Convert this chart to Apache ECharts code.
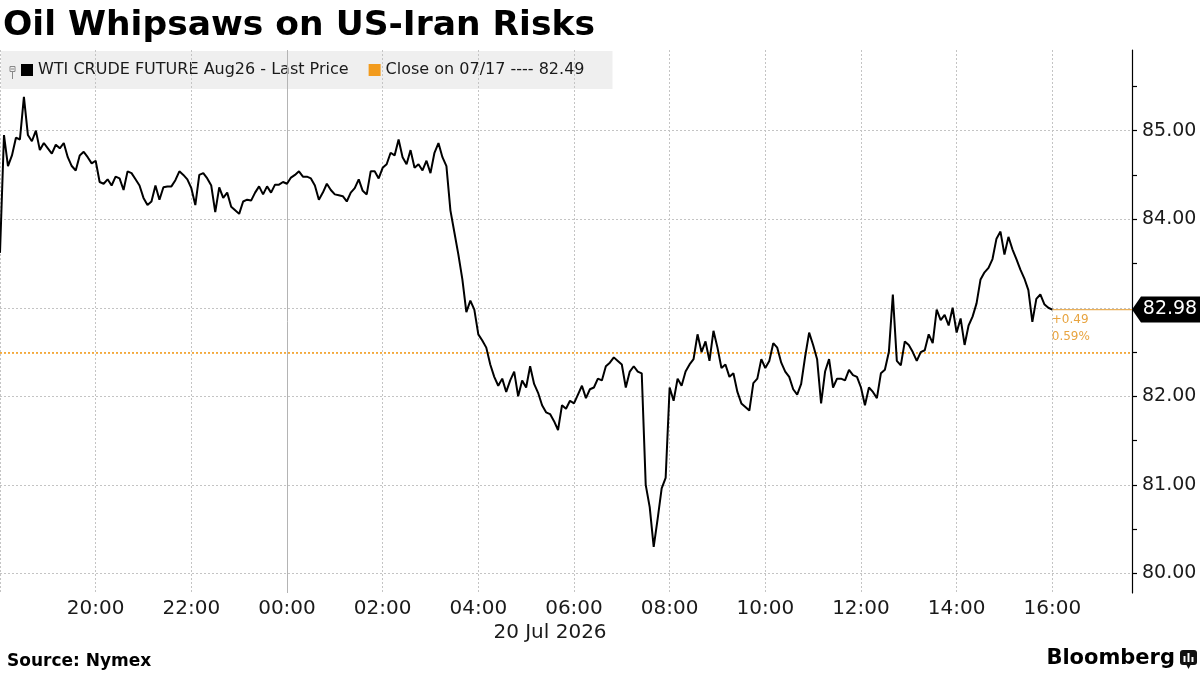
<!DOCTYPE html>
<html>
<head>
<meta charset="utf-8">
<script src="https://cdn.jsdelivr.net/npm/echarts@6/dist/echarts.min.js"></script>
<style>html,body{margin:0;padding:0;background:#fff}#c{width:1200px;height:675px}</style>
</head>
<body>
<div id="c"></div>
<script>
// ---------------- data ----------------
const chartTitle = 'Oil Whipsaws on US-Iran Risks';
const seriesName = 'WTI CRUDE FUTURE Aug26 - Last Price';
const closeDate = '07/17';
const closePrice = 82.49;
const sourceText = 'Source: Nymex';
const dateLabel = '20 Jul 2026';
// first print 19 Jul 2026 18:00, one value every 5 minutes up to 20 Jul 16:00
const startTime = Date.UTC(2026, 6, 19, 18, 0);
const stepMinutes = 5;
const prices = [
  83.62, 84.95, 84.60, 84.72, 84.92, 84.90, 85.38, 84.95, 84.88, 85.00,
  84.78, 84.86, 84.80, 84.74, 84.84, 84.80, 84.86, 84.70, 84.60, 84.55,
  84.72, 84.76, 84.70, 84.63, 84.66, 84.42, 84.40, 84.45, 84.38, 84.48,
  84.46, 84.33, 84.54, 84.52, 84.45, 84.38, 84.24, 84.16, 84.20, 84.38,
  84.22, 84.36, 84.37, 84.37, 84.44, 84.54, 84.50, 84.45, 84.35, 84.16,
  84.50, 84.52, 84.46, 84.38, 84.08, 84.36, 84.24, 84.30, 84.14, 84.10,
  84.06, 84.20, 84.22, 84.21, 84.30, 84.37, 84.28, 84.37, 84.30, 84.39,
  84.39, 84.42, 84.40, 84.47, 84.50, 84.54, 84.48, 84.48, 84.46, 84.38,
  84.22, 84.30, 84.40, 84.33, 84.28, 84.27, 84.26, 84.20, 84.30, 84.35,
  84.45, 84.32, 84.28, 84.54, 84.54, 84.46, 84.58, 84.62, 84.75, 84.72,
  84.90, 84.70, 84.62, 84.78, 84.58, 84.62, 84.55, 84.66, 84.52, 84.75,
  84.86, 84.70, 84.60, 84.10, 83.85, 83.60, 83.32, 82.95, 83.08, 82.98,
  82.70, 82.63, 82.55, 82.36, 82.22, 82.12, 82.20, 82.05, 82.18, 82.28,
  82.00, 82.18, 82.10, 82.34, 82.14, 82.04, 81.90, 81.82, 81.80, 81.72,
  81.62, 81.90, 81.86, 81.95, 81.92, 82.02, 82.12, 81.98, 82.08, 82.10,
  82.20, 82.18, 82.34, 82.38, 82.44, 82.40, 82.36, 82.10, 82.28, 82.34,
  82.28, 82.26, 81.00, 80.75, 80.30, 80.62, 80.96, 81.08, 82.10, 81.95,
  82.20, 82.12, 82.28, 82.36, 82.42, 82.70, 82.50, 82.62, 82.40, 82.74,
  82.55, 82.32, 82.36, 82.22, 82.26, 82.05, 81.92, 81.88, 81.84, 82.15,
  82.20, 82.42, 82.32, 82.40, 82.60, 82.55, 82.38, 82.28, 82.22, 82.08,
  82.02, 82.14, 82.45, 82.72, 82.58, 82.42, 81.92, 82.28, 82.42, 82.10,
  82.20, 82.20, 82.18, 82.30, 82.24, 82.22, 82.10, 81.90, 82.10, 82.05,
  81.98, 82.26, 82.30, 82.50, 83.15, 82.40, 82.35, 82.62, 82.58, 82.50,
  82.40, 82.50, 82.52, 82.70, 82.60, 82.98, 82.86, 82.92, 82.80, 83.00,
  82.72, 82.88, 82.58, 82.80, 82.90, 83.05, 83.32, 83.40, 83.45, 83.55,
  83.78, 83.86, 83.60, 83.80, 83.66, 83.55, 83.43, 83.33, 83.20, 82.84,
  83.10, 83.15, 83.04, 83.00, 82.98
];
const yLabelValues = [80, 81, 82, 83, 84, 85];
const yTickValues = [80, 80.5, 81, 81.5, 82, 82.5, 83, 83.5, 84, 84.5, 85, 85.5];
const xAxisMin = Date.UTC(2026, 6, 19, 18, 0);
const xAxisMax = Date.UTC(2026, 6, 20, 17, 40);
const yAxisMin = 79.78;
const yAxisMax = 85.91;
const dateSeparator = Date.UTC(2026, 6, 20, 0, 0);

// ---------------- chart ----------------
const FONT = '"DejaVu Sans", Verdana, sans-serif';
const ORANGE = '#f29b1d';
const times = prices.map((_, i) => startTime + i * stepMinutes * 60000);
const lineData = times.map((t, i) => [t, prices[i]]);
const lastPrice = prices[prices.length - 1];
const lastTime = times[times.length - 1];
const chg = lastPrice - closePrice;
const pct = chg / closePrice * 100;
const closeName = 'Close on ' + closeDate + ' ---- ' + closePrice.toFixed(2);

const pad = n => (n < 10 ? '0' : '') + n;

const chart = echarts.init(document.getElementById('c'), null, {renderer: 'canvas'});
chart.setOption({
  animation: false,
  textStyle: {fontFamily: FONT},
  grid: {left: 0, right: 68, top: 50, bottom: 82},
  legend: {
    left: 1, top: 51,
    data: [
      {name: seriesName, icon: 'rect', itemStyle: {color: '#000'}},
      {name: closeName, icon: 'rect', itemStyle: {color: ORANGE}}
    ],
    itemWidth: 12, itemHeight: 12, itemGap: 20,
    padding: [11, 28, 11, 20],
    backgroundColor: '#efefef',
    textStyle: {fontSize: 16, color: '#1a1a1a', fontFamily: FONT},
    selectedMode: false,
    z: -1
  },
  xAxis: {
    type: 'value', min: xAxisMin, max: xAxisMax, interval: 7200000,
    axisLine: {show: false}, axisTick: {show: false},
    axisLabel: {
      margin: 6, fontSize: 20, color: '#1a1a1a', fontFamily: FONT,
      showMinLabel: false, showMaxLabel: false,
      formatter: v => {
        const d = new Date(v);
        if (d.getUTCMinutes() !== 0 || d.getUTCHours() % 2 !== 0 || v === xAxisMin) return '';
        return pad(d.getUTCHours()) + ':00';
      }
    },
    splitLine: {show: true, lineStyle: {color: '#c4c4c4', type: [2, 2], width: 1}}
  },
  yAxis: {
    type: 'value', position: 'right', min: yAxisMin, max: yAxisMax,
    axisLine: {show: true, lineStyle: {color: '#000', width: 1.2}},
    axisTick: {show: true, inside: false, length: 5, customValues: yTickValues, lineStyle: {color: '#000', width: 1.2}},
    axisLabel: {customValues: yLabelValues, margin: 10, fontSize: 19, color: '#1a1a1a', fontFamily: FONT,
      formatter: v => Number(v).toFixed(2)},
    splitLine: {show: false}
  },
  series: [
    {
      name: seriesName, type: 'line', data: lineData,
      symbol: 'none', showSymbol: false, z: 3,
      lineStyle: {color: '#000', width: 2},
      itemStyle: {color: '#000'},
      markLine: {
        silent: true, symbol: ['none', 'none'], z: 1, animation: false,
        label: {show: false},
        data: [{xAxis: dateSeparator, lineStyle: {color: '#b4b4b4', type: 'solid', width: 1}}]
          .concat(yLabelValues.map(v => ({yAxis: v, lineStyle: {color: '#c4c4c4', type: [2, 2], width: 1}})))
      }
    },
    {
      name: closeName, type: 'line',
      data: [[xAxisMin, closePrice], [xAxisMax, closePrice]],
      symbol: 'none', showSymbol: false, z: 2,
      lineStyle: {color: ORANGE, type: [2, 2], width: 1.6},
      itemStyle: {color: ORANGE}
    },
    {
      name: 'last', type: 'line',
      data: [[lastTime, lastPrice], [xAxisMax, lastPrice]],
      symbol: 'none', showSymbol: false, z: 2,
      lineStyle: {color: '#eab05a', width: 1.2},
      itemStyle: {color: '#eab05a'},
      markPoint: {
        silent: true, animation: false,
        data: [
          {
            coord: [xAxisMax, lastPrice],
            symbol: 'path://M0,13L9,0L68,0L68,26L9,26Z',
            symbolSize: [68, 26], symbolOffset: [34, 0],
            itemStyle: {color: '#000'},
            label: {show: true, position: 'inside', offset: [4, 0], color: '#fff', fontSize: 19, fontFamily: FONT,
              formatter: lastPrice.toFixed(2)}
          },
          {
            coord: [lastTime, lastPrice],
            symbol: 'circle', symbolSize: 1,
            itemStyle: {color: 'rgba(0,0,0,0)'},
            label: {show: true, position: [0, 2], align: 'left', verticalAlign: 'top',
              color: '#e8a440', fontSize: 12, lineHeight: 17, fontFamily: FONT,
              formatter: (chg >= 0 ? '+' : '') + chg.toFixed(2) + '\n' + pct.toFixed(2) + '%'}
          }
        ]
      }
    }
  ],
  graphic: [
    {type: 'text', x: 3, y: 26, style: {text: chartTitle, fontSize: 34.5, fontWeight: 'bold', fontFamily: FONT, fill: '#000', verticalAlign: 'middle'}},
    {type: 'text', x: 550, y: 633, style: {text: dateLabel, fontSize: 20, fontFamily: FONT, fill: '#1a1a1a', align: 'center', verticalAlign: 'middle'}},
    {type: 'text', x: 7, y: 662, style: {text: sourceText, fontSize: 17, fontWeight: 'bold', fontFamily: FONT, fill: '#000', verticalAlign: 'middle'}},
    {type: 'text', x: 1175, y: 659, style: {text: 'Bloomberg', fontSize: 21, fontWeight: 'bold', fontFamily: FONT, fill: '#000', align: 'right', verticalAlign: 'middle'}},
    {type: 'group', children: [
      {type: 'rect', shape: {x: 1180, y: 650, width: 17, height: 15, r: 3}, style: {fill: '#111'}},
      {type: 'polygon', shape: {points: [[1186, 664], [1191, 664], [1188.5, 669]]}, style: {fill: '#111'}},
      {type: 'rect', shape: {x: 1183.5, y: 656, width: 2, height: 6}, style: {fill: '#fff'}},
      {type: 'rect', shape: {x: 1187.5, y: 653, width: 2, height: 9}, style: {fill: '#fff'}},
      {type: 'rect', shape: {x: 1191.5, y: 657, width: 2, height: 5}, style: {fill: '#fff'}}
    ]},
    {type: 'group', z: 10, children: [
      {type: 'rect', shape: {x: 10, y: 66.5, width: 5, height: 5}, style: {fill: 'none', stroke: '#888', lineWidth: 1}},
      {type: 'line', shape: {x1: 11, y1: 69, x2: 14, y2: 69}, style: {stroke: '#888', lineWidth: 1}},
      {type: 'line', shape: {x1: 12.5, y1: 71.5, x2: 12.5, y2: 79}, style: {stroke: '#888', lineWidth: 1}}
    ]}
  ]
});
</script>
</body>
</html>
